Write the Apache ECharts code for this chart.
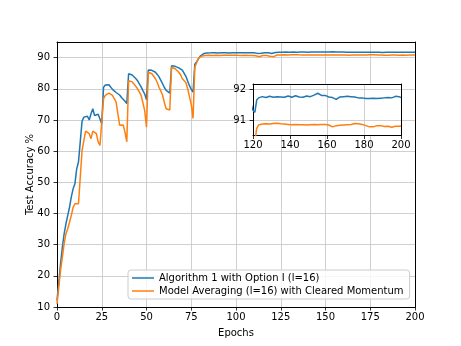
<!DOCTYPE html>
<html>
<head>
<meta charset="utf-8">
<script src="https://cdn.jsdelivr.net/npm/echarts@6/dist/echarts.min.js"></script>
<style>
html, body { margin: 0; padding: 0; background: #fff; }
#chart { width: 461px; height: 346px; }
</style>
</head>
<body>
<div id="chart"></div>
<script>
// test accuracy per epoch (0..200)
var accAlgo = [
    12.1, 18.0, 23.9, 29.2, 33.5, 36.7, 39.4, 42.0, 45.3, 47.9,
    49.5, 54.3, 56.5, 56.4, 69.6, 70.9, 71.4, 71.2, 70.0, 72.0,
    73.6, 71.4, 72.0, 71.8, 71.4, 68.8, 80.5, 81.2, 81.5, 81.3,
    80.8, 79.8, 79.2, 78.8, 78.4, 78.0, 77.2, 76.6, 76.0, 75.3,
    84.8, 84.5, 84.4, 84.0, 83.3, 82.6, 81.6, 80.6, 79.4, 78.3,
    76.5, 86.0, 86.1, 85.9, 85.6, 85.3, 84.6, 83.8, 82.7, 81.6,
    80.4, 79.5, 78.9, 78.6, 87.4, 87.3, 87.2, 86.9, 86.7, 86.3,
    86.0, 85.5, 84.0, 82.5, 81.0, 79.8, 78.9, 87.9, 88.6, 89.6,
    90.5, 91.0, 91.3, 91.45, 91.5, 91.48, 91.52, 91.5, 91.55, 91.5,
    91.47, 91.52, 91.55, 91.5, 91.53, 91.56, 91.5, 91.52, 91.55, 91.58,
    91.54, 91.5, 91.55, 91.57, 91.52, 91.55, 91.58, 91.55, 91.52, 91.56,
    91.54, 91.5, 91.35, 90.95, 91.4, 91.5, 91.52, 91.5, 91.55, 91.5,
    91.32, 91.25, 91.65, 91.72, 91.74, 91.76, 91.75, 91.73, 91.76, 91.77,
    91.75, 91.74, 91.78, 91.76, 91.73, 91.75, 91.77, 91.74, 91.76, 91.78,
    91.75, 91.74, 91.76, 91.79, 91.76, 91.75, 91.77, 91.74, 91.76, 91.78,
    91.77, 91.76, 91.79, 91.81, 91.84, 91.87, 91.82, 91.8, 91.78, 91.8,
    91.77, 91.75, 91.74, 91.73, 91.7, 91.67, 91.72, 91.75, 91.74, 91.76,
    91.75, 91.77, 91.75, 91.76, 91.74, 91.75, 91.73, 91.72, 91.74, 91.72,
    91.73, 91.7, 91.65, 91.7, 91.72, 91.71, 91.73, 91.7, 91.72, 91.71,
    91.7, 91.72, 91.71, 91.73, 91.7, 91.72, 91.75, 91.77, 91.74, 91.76,
    91.73
];
var accAvg = [
    11.0, 16.4, 21.8, 26.0, 30.3, 33.5, 35.1, 37.2, 39.4, 42.0,
    43.1, 43.3, 43.1, 43.6, 60.2, 63.4, 66.4, 66.1, 65.6, 64.0,
    66.4, 66.1, 65.6, 62.9, 61.8, 61.6, 76.8, 77.9, 78.3, 78.6,
    78.4, 77.9, 76.8, 75.8, 72.0, 68.3, 68.5, 68.4, 66.0, 63.0,
    82.6, 82.4, 82.2, 81.5, 80.8, 80.0, 79.0, 77.9, 75.5, 73.0,
    67.7, 85.3, 85.2, 84.8, 84.2, 83.2, 82.0, 80.5, 79.3, 77.9,
    75.5, 73.6, 73.0, 73.2, 86.9, 86.7, 86.4, 86.0, 85.3, 84.5,
    83.2, 82.6, 82.0, 80.0, 77.5, 75.0, 70.5, 86.9, 87.4, 89.8,
    90.3, 90.5, 90.65, 90.68, 90.7, 90.72, 90.7, 90.68, 90.7, 90.73,
    90.71, 90.7, 90.72, 90.74, 90.7, 90.71, 90.73, 90.72, 90.7, 90.74,
    90.72, 90.71, 90.73, 90.7, 90.72, 90.74, 90.71, 90.7, 90.72, 90.7,
    90.71, 90.6, 90.1, 90.25, 90.6, 90.68, 90.7, 90.7, 90.66, 90.45,
    90.2, 90.3, 90.73, 90.84, 90.86, 90.87, 90.85, 90.88, 90.9, 90.87,
    90.93, 90.89, 90.87, 90.9, 90.92, 90.88, 90.86, 90.87, 90.85, 90.86,
    90.88, 90.85, 90.84, 90.86, 90.87, 90.85, 90.83, 90.85, 90.86, 90.84,
    90.86, 90.85, 90.87, 90.86, 90.84, 90.85, 90.87, 90.86, 90.88, 90.86,
    90.87, 90.84, 90.8, 90.78, 90.79, 90.82, 90.84, 90.83, 90.85, 90.84,
    90.86, 90.85, 90.87, 90.86, 90.88, 90.89, 90.87, 90.88, 90.9, 90.86,
    90.84, 90.82, 90.8, 90.78, 90.76, 90.78, 90.8, 90.82, 90.83, 90.82,
    90.8, 90.79, 90.81, 90.8, 90.78, 90.77, 90.79, 90.8, 90.78, 90.8,
    90.81
];
var nameAlgo = 'Algorithm 1 with Option I (l=16)';
var nameAvg = 'Model Averaging (l=16) with Cleared Momentum';
var xTicks = [0, 25, 50, 75, 100, 125, 150, 175, 200];
var yTicks = [10, 20, 30, 40, 50, 60, 70, 80, 90];
var insetXTicks = [120, 140, 160, 180, 200];
var insetYTicks = [91, 92];

var FONT = 'DejaVu Sans';
var BLUE = '#1f77b4', ORANGE = '#ff7f0e';
var GRIDC = '#c4c4c4';

function pairs(arr) {
    var out = [];
    for (var i = 0; i < arr.length; i++) out.push([i, arr[i]]);
    return out;
}

// x axis builder: bottom axis with labels, top axis only draws the frame
function xAx(grid, min, max, ticks, withLabels, pos, z) {
    return {
        type: 'value', gridIndex: grid, min: min, max: max, position: pos, z: z,
        axisLine: { show: true, onZero: false, lineStyle: { color: '#000', width: 1 } },
        axisTick: { show: withLabels, inside: false, length: 3.5, lineStyle: { color: '#000', width: 0.8 }, customValues: ticks },
        axisLabel: { show: withLabels, margin: 5, customValues: ticks, color: '#000', fontFamily: FONT, fontSize: 10 },
        splitLine: { show: withLabels, lineStyle: { color: GRIDC, width: 0.8 } }
    };
}
function yAx(grid, min, max, ticks, withLabels, pos, z) {
    return {
        type: 'value', gridIndex: grid, min: min, max: max, position: pos, z: z,
        axisLine: { show: true, onZero: false, lineStyle: { color: '#000', width: 1 } },
        axisTick: { show: withLabels, inside: false, length: 3.5, lineStyle: { color: '#000', width: 0.8 }, customValues: ticks },
        axisLabel: { show: withLabels, margin: 7, customValues: ticks, color: '#000', fontFamily: FONT, fontSize: 10 },
        splitLine: { show: withLabels, lineStyle: { color: GRIDC, width: 0.8 } }
    };
}

var xMain = xAx(0, 0, 200, xTicks, true, 'bottom', 0);
xMain.interval = 25;
xMain.name = 'Epochs';
xMain.nameLocation = 'middle';
xMain.nameGap = 21;
xMain.nameMoveOverlap = false;
xMain.nameTextStyle = { color: '#000', fontFamily: FONT, fontSize: 10 };
var yMain = yAx(0, 10, 95, yTicks, true, 'left', 0);
yMain.interval = 10;
yMain.name = 'Test Accuracy %';
yMain.nameLocation = 'middle';
yMain.nameGap = 22;
yMain.nameMoveOverlap = false;
yMain.nameTextStyle = { color: '#000', fontFamily: FONT, fontSize: 10 };

var xIn = xAx(1, 120, 200, insetXTicks, true, 'bottom', 4);
xIn.interval = 20;
var yIn = yAx(1, 90.5, 92.17, insetYTicks, true, 'left', 4);
yIn.splitNumber = 2;

var option = {
    animation: false,
    backgroundColor: '#fff',
    grid: [
        { left: 57, top: 42, width: 358, height: 265, outerBoundsMode: 'none', containLabel: false },
        { left: 253, top: 84, width: 148, height: 51.5, show: true, backgroundColor: '#fff', borderWidth: 0, z: 3, outerBoundsMode: 'none', containLabel: false }
    ],
    xAxis: [
        xMain,
        xAx(0, 0, 200, xTicks, false, 'top', 0),
        xIn,
        xAx(1, 120, 200, insetXTicks, false, 'top', 4)
    ],
    yAxis: [
        yMain,
        yAx(0, 10, 95, yTicks, false, 'right', 0),
        yIn,
        yAx(1, 90.5, 92.17, insetYTicks, false, 'right', 4)
    ],
    legend: {
        orient: 'vertical', left: 128, top: 270,
        data: [nameAlgo, nameAvg],
        icon: 'rect', itemWidth: 22, itemHeight: 1.5, itemGap: 3,
        padding: [3, 6, 3, 4],
        borderColor: '#cccccc', borderWidth: 1, borderRadius: 3,
        backgroundColor: 'rgba(255,255,255,0.8)',
        textStyle: { color: '#000', fontFamily: FONT, fontSize: 10 },
        z: 8
    },
    series: [
        { name: nameAlgo, type: 'line', xAxisIndex: 0, yAxisIndex: 0, data: pairs(accAlgo), showSymbol: false, symbol: 'none', lineStyle: { color: BLUE, width: 1.5 }, itemStyle: { color: BLUE }, z: 2 },
        { name: nameAvg, type: 'line', xAxisIndex: 0, yAxisIndex: 0, data: pairs(accAvg), showSymbol: false, symbol: 'none', lineStyle: { color: ORANGE, width: 1.5 }, itemStyle: { color: ORANGE }, z: 2 },
        { name: nameAlgo, type: 'line', xAxisIndex: 2, yAxisIndex: 2, data: pairs(accAlgo), showSymbol: false, symbol: 'none', clip: true, lineStyle: { color: BLUE, width: 1.5 }, itemStyle: { color: BLUE }, z: 5 },
        { name: nameAvg, type: 'line', xAxisIndex: 2, yAxisIndex: 2, data: pairs(accAvg), showSymbol: false, symbol: 'none', clip: true, lineStyle: { color: ORANGE, width: 1.5 }, itemStyle: { color: ORANGE }, z: 5 }
    ]
};

var chart = echarts.init(document.getElementById('chart'), null, { renderer: 'canvas' });
chart.setOption(option);
</script>
</body>
</html>
